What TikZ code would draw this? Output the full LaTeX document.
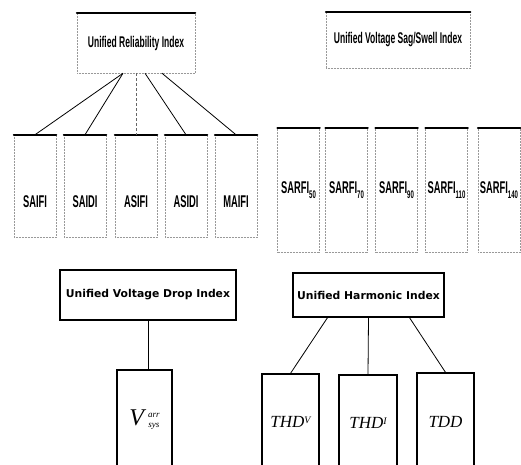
\documentclass[tikz,border=0pt]{standalone}
\usepackage{amsmath}
\usepackage{fontspec}
\setmainfont{Liberation Sans}
\newfontfamily\narrowsf[FakeStretch=0.55]{Liberation Sans Bold}
\newfontfamily\widesf{DejaVu Sans}
\newfontfamily\timesit{Liberation Serif Italic}
\usetikzlibrary{positioning}

\begin{document}
\begin{tikzpicture}[x=1pt, y=-1pt, every node/.style={inner sep=0pt},
  faintbox/.style={draw=black!40, densely dotted, line width=0.5pt},
  solidbox/.style={draw, line width=1.3pt, font=\widesf\bfseries\fontsize{10.8}{13}\selectfont},
  toplbl/.style={font=\narrowsf\fontsize{15.5}{17}\selectfont},
  sublbl/.style={font=\narrowsf\fontsize{17}{18}\selectfont},
  topedge/.style={line width=2pt, line cap=round},
  link/.style={line width=0.8pt},
  mathlbl/.style={font=\timesit\fontsize{17}{18}\selectfont}]
\useasboundingbox (0,0) rectangle (521,464);

% the two upper index boxes
\node[faintbox, toplbl, minimum width=118pt, minimum height=60pt] (rel) at (136,43) {Unified Reliability Index};
\node[faintbox, toplbl, minimum width=144pt, minimum height=56pt] (sag) at (398,40) {Unified Voltage Sag/Swell Index};

% reliability indices
\foreach \nm/\cx/\txt in {saifi/35/SAIFI, saidi/85/SAIDI, asifi/136/ASIFI, asidi/186/ASIDI, maifi/236/MAIFI} {
  \node[faintbox, minimum width=42pt, minimum height=102pt] (\nm) at (\cx,186) {};
  \node[sublbl] (\nm-t) at ([yshift=-16pt]\nm.center) {\txt};
}

% sag/swell indices
\foreach \nm/\cx/\sub in {sarfia/298.5/50, sarfib/346.5/70, sarfic/396.5/90, sarfid/446.5/110, sarfie/499/140} {
  \node[faintbox, sublbl, minimum width=42pt, minimum height=124pt] (\nm) at (\cx,190) {SARFI\raisebox{-5pt}{\fontsize{11}{11}\selectfont\sub}};
}

\foreach \nm in {rel,sag,saifi,saidi,asifi,asidi,maifi,sarfia,sarfib,sarfic,sarfid,sarfie}
  \draw[topedge] (\nm.north west) -- (\nm.north east);

\draw[link] ([xshift=-13pt]rel.south) -- (saifi.north);
\draw[link] ([xshift=-13pt]rel.south) -- (saidi.north);
\draw[link, densely dashed, draw=black!60] (rel.south) -- (asifi.north);
\draw[link] ([xshift=9pt]rel.south) -- (asidi.north);
\draw[link] ([xshift=26pt]rel.south) -- (maifi.north);

% lower index boxes
\node[solidbox, minimum width=176pt, minimum height=50pt] (drop) at (148,295) {Unified Voltage Drop Index};
\node[solidbox, minimum width=151pt, minimum height=44pt] (harm) at (368.5,295) {Unified Harmonic Index};

\node[solidbox, mathlbl, minimum width=55pt, minimum height=100pt] (vsys) at (144.5,420) {\fontsize{24}{24}\selectfont V\,\raisebox{-2pt}{\fontsize{9}{9}\selectfont\shortstack{arr\\[3pt]sys}}};
\node[solidbox, mathlbl, minimum width=57pt, minimum height=96pt] (thdv) at (290.5,422) {THD\raisebox{4pt}{\fontsize{10}{10}\selectfont V}};
\node[solidbox, mathlbl, minimum width=58pt, minimum height=95pt] (thdi) at (368,422.5) {THD\raisebox{4pt}{\fontsize{10}{10}\selectfont I}};
\node[solidbox, mathlbl, minimum width=57pt, minimum height=97pt] (tdd) at (445.5,421.5) {TDD};

\draw[link] (drop.south) -- (drop.south |- vsys.north);
\draw[link] ([xshift=-41pt]harm.south) -- (thdv.north);
\draw[link] (harm.south) -- (thdi.north);
\draw[link] ([xshift=41pt]harm.south) -- (tdd.north);
\end{tikzpicture}
\end{document}
